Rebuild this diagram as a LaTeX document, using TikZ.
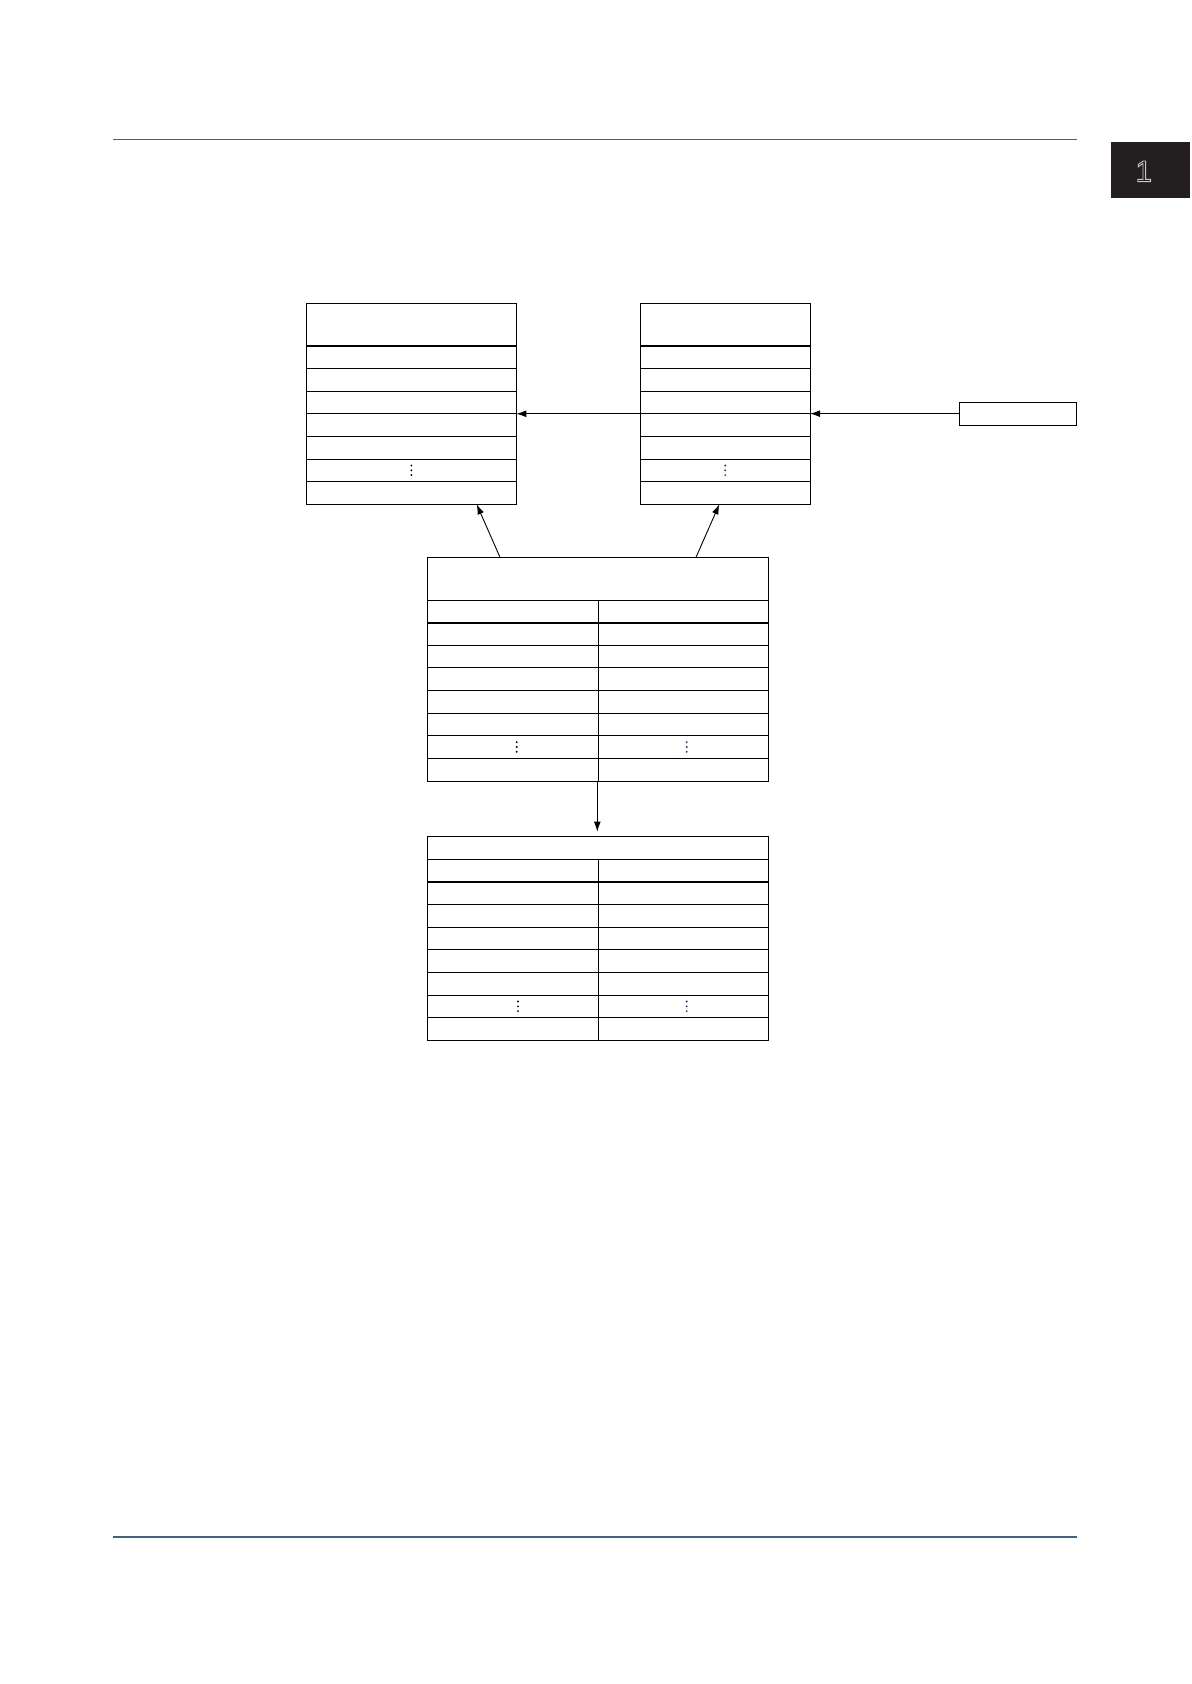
\documentclass[tikz,border=0pt]{standalone}
\usepackage{fontspec}
\newfontfamily\tabfont{Liberation Sans}
\usetikzlibrary{arrows.meta,calc}
\definecolor{rulecol}{HTML}{3D6282}
\definecolor{tabcol}{HTML}{231F20}
\definecolor{dotblue}{HTML}{34348A}
\definecolor{tabnum}{HTML}{C8C8C8}
\begin{document}
\begin{tikzpicture}[x=0.5pt,y=-0.5pt,
  tbl/.style={draw,line width=0.45pt,inner sep=0pt,outer sep=0pt,anchor=north west},
  thin/.style={line width=0.45pt},
  thick/.style={line width=0.85pt},
  arr/.style={line width=0.45pt,-{Latex[length=5pt,width=3.4pt]}},
  hrule/.style={draw=rulecol,line width=0.55pt},
  vd/.pic={\fill (0,-4.8) circle[radius=1.05]; \fill (0,0) circle[radius=1.05]; \fill (0,4.8) circle[radius=1.05];}
]
\useasboundingbox (0,0) rectangle (1191,1684);
% page rules
\coordinate (r1a) at (113,139.3); \coordinate (r1b) at (1076.7,139.3);
\coordinate (r2a) at (113,1537); \coordinate (r2b) at (1076.7,1537);
\draw[hrule] (r1a) -- (r1b);
\draw[hrule] (r2a) -- (r2b);
% chapter tab
\node[fill=tabcol,inner sep=0pt,anchor=north west,minimum width=39.65pt,minimum height=28.15pt] (tab) at (1110.7,141.7) {};
\node[font=\tabfont\fontsize{15}{15}\selectfont,text=tabcol,inner sep=0pt] (tabn) at (1143.8,171.3)
  {\special{pdf:code 1 Tr 0.78 0.78 0.78 RG 0.45 w}1\special{pdf:code 0 Tr}};

% left table
\node[tbl,minimum width=104.9pt,minimum height=100.5pt] (L) at (306.5,303.3) {};
\draw[thick] (L.west |- 0,346) -- (L.east |- 0,346);
\foreach \yy in {368.6,391.2,413.8,436.4,459.0,481.6}
  \draw[thin] (L.west |- 0,\yy) -- (L.east |- 0,\yy);
\pic at (411.4,470.3) {vd};

% right table
\node[tbl,minimum width=84.85pt,minimum height=100.5pt] (R) at (640.3,303.3) {};
\draw[thick] (R.west |- 0,346) -- (R.east |- 0,346);
\foreach \yy in {368.6,391.2,413.8,436.4,459.0,481.6}
  \draw[thin] (R.west |- 0,\yy) -- (R.east |- 0,\yy);
\pic[dotblue] at (725.2,470.3) {vd};

% small box
\node[tbl,minimum width=58.7pt,minimum height=11.35pt] (S) at (959.3,402.3) {};

% middle table
\node[tbl,minimum width=170.7pt,minimum height=111.85pt] (M) at (427.3,557.3) {};
\coordinate (mdiv) at (598.3,600.7);
\draw[thin] (M.west |- mdiv) -- (M.east |- mdiv);
\draw[thin] (mdiv) -- (mdiv |- M.south);
\draw[thick] (M.west |- 0,622.7) -- (M.east |- 0,622.7);
\foreach \yy in {645.3,667.9,690.5,713.1,735.7,758.3}
  \draw[thin] (M.west |- 0,\yy) -- (M.east |- 0,\yy);
\pic at (516.7,747) {vd};
\pic[dotblue] at (686.7,747) {vd};

% bottom table
\node[tbl,minimum width=170.7pt,minimum height=101.8pt] (B) at (427.3,836.7) {};
\coordinate (bdiv) at (598.3,859.3);
\draw[thin] (B.west |- bdiv) -- (B.east |- bdiv);
\draw[thin] (bdiv) -- (bdiv |- B.south);
\draw[thick] (B.west |- 0,881.7) -- (B.east |- 0,881.7);
\foreach \yy in {904.4,927.0,949.7,972.3,995.0,1017.6}
  \draw[thin] (B.west |- 0,\yy) -- (B.east |- 0,\yy);
\pic at (518,1006.3) {vd};
\pic[dotblue] at (686.7,1006.3) {vd};

% connectors
\coordinate (rowy) at (0,413.8);
\draw[arr] (R.west |- rowy) -- (L.east |- rowy);
\draw[arr] (S.west) -- (S.west -| R.east);
\coordinate (m1) at (500,557.3);
\coordinate (l1) at (476.7,504.3);
\coordinate (m2) at (696,557.3);
\coordinate (r2) at (719.3,504.3);
\draw[arr] (m1) -- (l1);
\draw[arr] (m2) -- (r2);
\coordinate (bx) at (597.3,0);
\draw[arr,shorten >=2.5pt] (M.south -| bx) -- (B.north -| bx);
\end{tikzpicture}
\end{document}
